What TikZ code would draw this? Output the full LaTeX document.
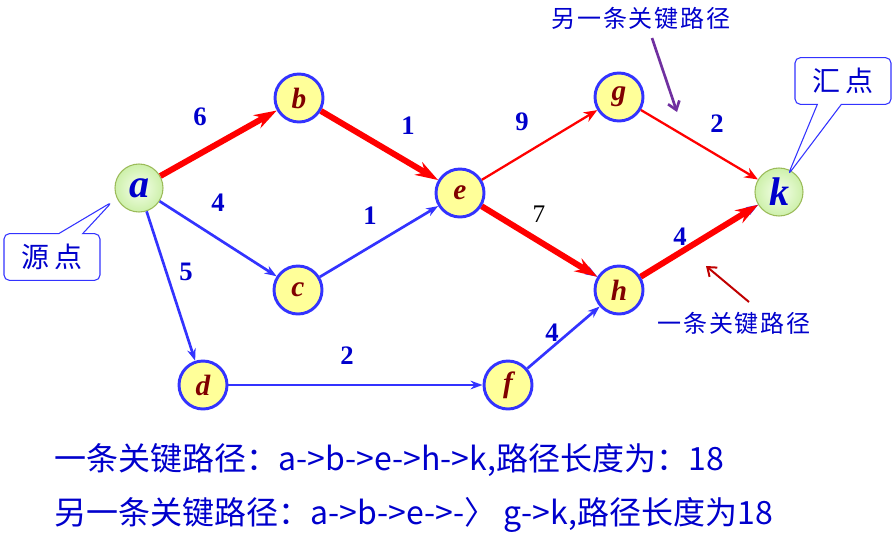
\documentclass[tikz,border=0pt]{standalone}
\usepackage{fontspec}
\setmainfont{Liberation Serif}
\newfontfamily\cjk{Noto Sans CJK SC}
\newfontfamily\cjksp[LetterSpace=8]{Noto Sans CJK SC}
\usepackage{xcolor}
\usetikzlibrary{arrows.meta,shapes.callouts}
\definecolor{vblue}{RGB}{51,51,255}
\definecolor{lblue}{RGB}{0,0,204}
\definecolor{vyellow}{RGB}{255,255,153}
\definecolor{vletter}{RGB}{128,0,0}
\definecolor{gborder}{RGB}{155,187,89}
\definecolor{purp}{RGB}{112,48,160}
\definecolor{dred}{RGB}{192,0,0}

\begin{document}
\begin{tikzpicture}[x=0.75pt,y=-0.75pt,>=Stealth,
    vtx/.style={circle,draw=vblue,line width=2.2pt,fill=vyellow,minimum size=36pt,
      inner sep=0pt,text=vletter,font=\fontsize{22}{22}\selectfont\bfseries\itshape},
    endv/.style={circle,draw=gborder,line width=0.8pt,shading=radial,
      inner color={rgb,255:red,245;green,255;blue,235},outer color={rgb,255:red,205;green,240;blue,170},
      minimum size=36pt,inner sep=0pt,text=lblue,font=\fontsize{30}{30}\selectfont\bfseries\itshape},
    wt/.style={text=lblue,font=\fontsize{20}{20}\selectfont\bfseries},
    bl/.style={draw=vblue,line width=2pt,-{Stealth[length=9pt,width=6.5pt]}},
    rthin/.style={draw=red,line width=1.7pt,-{Stealth[length=10pt,width=8pt]}},
    rthick/.style={draw=red,line width=4.5pt,-{Stealth[length=17pt,width=11pt]}},
    tag/.style={rectangle callout,draw=vblue,fill=white,line width=0.8pt,rounded corners=4pt,
      minimum width=72pt,minimum height=35pt,callout pointer width=18pt,
      text=lblue,font=\cjk\fontsize{21}{21}\selectfont},
    note/.style={text=lblue,font=\cjksp\fontsize{18}{18}\selectfont},
    path/.style={text=lblue,font=\cjk\fontsize{24}{24}\selectfont,anchor=west}]
    \useasboundingbox (0,0) rectangle (896,543);

    % vertices
    \node[endv] (a) at (139,188) {a};
    \node[vtx] (b) at (299,98) {b};
    \node[vtx] (c) at (298,290) {c};
    \node[vtx] (d) at (203,385) {d};
    \node[vtx] (e) at (460,193) {e};
    \node[vtx] (f) at (508,385) {f};
    \node[vtx] (g) at (619,97) {g};
    \node[vtx] (h) at (619,290) {h};
    \node[endv] (k) at (779,192) {k};

    % ordinary activities
    \draw[bl] (a)--(c);
    \draw[bl] (a)--(d);
    \draw[bl] (c)--(e);
    \draw[bl] (d)--(f);
    \draw[bl] (f)--(h);
    \draw[bl] (e)--(h);
    \draw[bl] (h)--(k);
    % critical paths
    \draw[rthin] (e)--(g);
    \draw[rthin] (g)--(k);
    \draw[rthick] (a)--(b);
    \draw[rthick] (b)--(e);
    \draw[rthick] (e)--(h);
    \draw[rthick] (h)--(k);

    % weights
    \node[wt] (w-ab) at (200,117) {6};
    \node[wt] (w-be) at (408,126) {1};
    \node[wt] (w-eg) at (522,122) {9};
    \node[wt] (w-gk) at (717,124) {2};
    \node[wt] (w-ac) at (218,203) {4};
    \node[wt] (w-ce) at (370,216) {1};
    \node[wt] (w-ad) at (186,272) {5};
    \node[wt] (w-df) at (347,356) {2};
    \node[wt] (w-fh) at (552,333) {4};
    \node[wt] (w-hk) at (680,237) {4};
    \node[font=\fontsize{19}{19}\selectfont] (w-eh) at (539,214) {7};

    % callouts
    \node[tag,callout absolute pointer={(112,202)}] (src) at (52,257) {源\,点};
    \node[tag,callout absolute pointer={(788,175)}] (sink) at (843,81) {汇\,点};

    % path notes
    \node[note] (top) at (641,18) {另一条关键路径};
    \coordinate (p1) at (652,38);
    \coordinate (p2) at (677,112);
    \draw[purp,line width=2pt,-{Straight Barb[length=6pt,width=9pt]}] (p1)--(p2);
    \node[note] (low) at (734,323) {一条关键路径};
    \coordinate (q1) at (749,302);
    \coordinate (q2) at (706,266);
    \draw[dred,line width=1.5pt,-{Straight Barb[length=6pt,width=9pt]}] (q1)--(q2);

    % results
    \node[path] (res1) at (50,460) {一条关键路径：a->b->e->h->k,路径长度为：18};
    \node[path] (res2) at (50,515) {另一条关键路径：a->b->e->-〉 g->k,路径长度为18};
\end{tikzpicture}
\end{document}
